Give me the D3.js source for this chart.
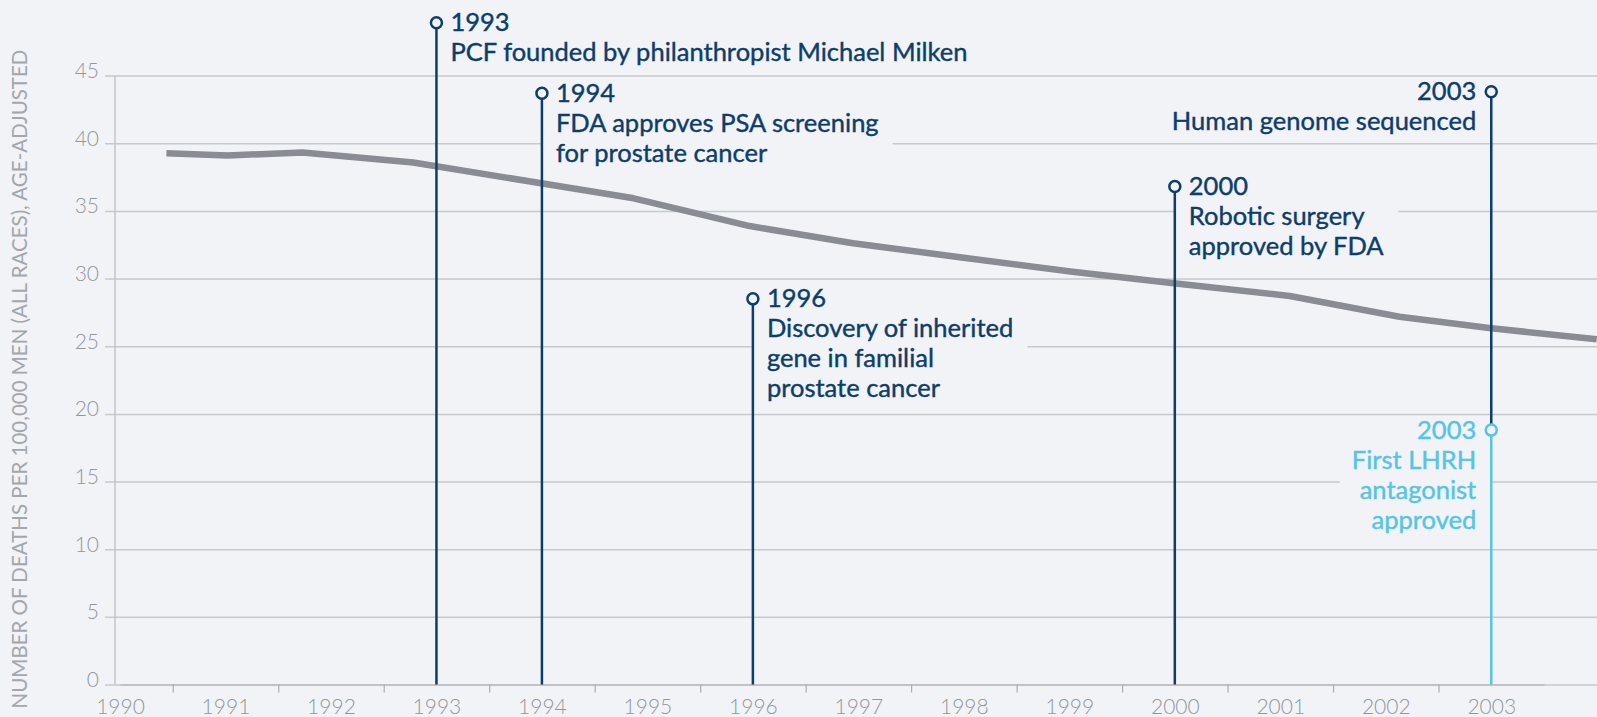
<!DOCTYPE html>
<html>
<head>
<meta charset="utf-8">
<script src="https://cdn.jsdelivr.net/npm/d3@7"></script>
<style>
  html, body { margin: 0; padding: 0; background: #f1f3f6; overflow: hidden; }
  svg { display: block; }
</style>
</head>
<body>
<div id="chart"></div>
<script>
// death rate line (fractional year positions as drawn in the source chart)
var lineYears = [1990.44, 1991.02, 1991.73, 1992.78, 1994.87, 1995.97, 1996.95, 1997.98, 1999.03, 1999.99, 2001.09, 2002.13, 2003.00, 2004.0]
var deathRates = [39.26, 39.10, 39.32, 38.58, 35.93, 33.88, 32.61, 31.56, 30.51, 29.65, 28.71, 27.18, 26.33, 25.51]

var tickYears = [1990, 1991, 1992, 1993, 1994, 1995, 1996, 1997, 1998, 1999, 2000, 2001, 2002, 2003]
var yTicks = [0, 5, 10, 15, 20, 25, 30, 35, 40, 45]

// milestones
var eventYears = [1993, 1994, 1996, 2000, 2003, 2003]
var eventLevels = [48.9, 43.7, 28.5, 36.8, 43.8, 18.8]
var eventTexts = [
    ['1993', 'PCF founded by philanthropist Michael Milken'],
    ['1994', 'FDA approves PSA screening', 'for prostate cancer'],
    ['1996', 'Discovery of inherited', 'gene in familial', 'prostate cancer'],
    ['2000', 'Robotic surgery', 'approved by FDA'],
    ['2003', 'Human genome sequenced'],
    ['2003', 'First LHRH', 'antagonist', 'approved']
]
var eventSides = ['right', 'right', 'right', 'right', 'left', 'left']
var eventTones = ['dark', 'dark', 'dark', 'dark', 'dark', 'light']

var yTitle = 'NUMBER OF DEATHS PER 100,000 MEN (ALL RACES), AGE-ADJUSTED'

var W = 1597, H = 717
var bg = '#f1f3f6'
var tone = { dark: '#0d3d6b', light: '#55c4e6' }

var svg = d3.select('#chart').append('svg')
    .attr('width', W)
    .attr('height', H)

svg.append('rect').attr('width', W).attr('height', H).attr('fill', bg)

var x = d3.scaleLinear().domain([1990, 2003.5]).range([120, 1544])
var y = d3.scaleLinear().domain([0, 45]).range([684.5, 75.6])
var axisX = 115

// y gridlines + labels
var yAxis = svg.append('g')
    .attr('transform', 'translate(' + axisX + ',0)')
    .call(d3.axisLeft(y).tickValues(yTicks).tickSizeInner(-(W - axisX)).tickSizeOuter(0))
yAxis.select('.domain').remove()
yAxis.selectAll('.tick line')
    .attr('x1', -10)
    .attr('stroke', '#c6c9cd')
    .attr('stroke-width', 1.5)
yAxis.selectAll('.tick text')
    .attr('x', -16)
    .attr('dy', 2)
    .attr('fill', '#93979c')
    .attr('font-family', 'Lato')
    .attr('font-weight', 300)
    .attr('font-size', '21px')

svg.append('line')
    .attr('x1', axisX).attr('x2', axisX)
    .attr('y1', y(45)).attr('y2', y(0))
    .attr('stroke', '#c2c5c9')
    .attr('stroke-width', 1.5)

// x axis: labels on years, ticks between years
var xAxis = svg.append('g')
    .attr('transform', 'translate(0,' + y(0) + ')')
    .call(d3.axisBottom(x).tickValues(tickYears).tickFormat(d3.format('d')).tickSize(0))
xAxis.select('.domain')
    .attr('stroke', '#bfc2c6')
    .attr('stroke-width', 2)
xAxis.selectAll('.tick text')
    .attr('y', 15)
    .attr('fill', '#93979c')
    .attr('font-family', 'Lato')
    .attr('font-weight', 300)
    .attr('font-size', '21px')

var halfYears = tickYears.slice(0, -1).map(function (d) { return d + 0.5 })
var xTicks = svg.append('g')
    .attr('transform', 'translate(0,' + y(0) + ')')
    .call(d3.axisBottom(x).tickValues(halfYears).tickFormat('').tickSize(8))
xTicks.select('.domain').remove()
xTicks.selectAll('.tick line').attr('stroke', '#a9adb2').attr('stroke-width', 1.2)

// y title
svg.append('text')
    .attr('transform', 'translate(27,' + 379 + ') rotate(-90)')
    .attr('text-anchor', 'middle')
    .attr('fill', '#a3a7ac')
    .attr('font-family', 'Lato')
    .attr('font-size', '20.5px')
    .text(yTitle)

// events: label blocks first (they mask gridlines), then stems
var events = eventYears.map(function (d, i) {
    return { year: d, level: eventLevels[i], lines: eventTexts[i], side: eventSides[i], tone: eventTones[i] }
})

var boxLayer = svg.append('g')
var dataLayer = svg.append('g')
var stemLayer = svg.append('g')
var textLayer = svg.append('g')

events.forEach(function (e) {
    var cx = x(e.year), cy = y(e.level)
    var right = e.side === 'right'
    var base0 = cy + 8.5
    var t = textLayer.append('text')
        .attr('fill', tone[e.tone])
        .attr('stroke', tone[e.tone])
        .attr('stroke-width', 0.4)
        .attr('font-family', 'Lato')
        .attr('font-size', '25.5px')
        .attr('text-anchor', right ? 'start' : 'end')
    e.lines.forEach(function (s, i) {
        t.append('tspan')
            .attr('x', right ? cx + 14 : cx - 15)
            .attr('y', base0 + i * 30)
            .text(s)
    })
    var bb = t.node().getBBox()
    var x0 = right ? cx : bb.x - 12
    var x1 = right ? bb.x + bb.width + 14 : cx
    var top = base0 - 21
    var bottom = base0 + (e.lines.length - 1) * 30 + 7
    boxLayer.append('rect')
        .attr('x', x0).attr('y', top)
        .attr('width', x1 - x0).attr('height', bottom - top)
        .attr('fill', bg)

    // stem down to the next milestone on the same year, or the axis
    var below = events.filter(function (o) { return o.year === e.year && o.level < e.level })
    var stemEnd = below.length ? y(d3.max(below, function (o) { return o.level })) : y(0)
    stemLayer.append('line')
        .attr('x1', cx).attr('x2', cx)
        .attr('y1', cy).attr('y2', stemEnd)
        .attr('stroke', tone[e.tone])
        .attr('stroke-width', 2.5)
})

events.forEach(function (e) {
    stemLayer.append('circle')
        .attr('cx', x(e.year)).attr('cy', y(e.level))
        .attr('r', 5.5)
        .attr('fill', bg)
        .attr('stroke', tone[e.tone])
        .attr('stroke-width', 2.5)
})

var line = d3.line()
    .x(function (d) { return x(d[0]) })
    .y(function (d) { return y(d[1]) })

dataLayer.append('path')
    .datum(d3.zip(lineYears, deathRates))
    .attr('d', line)
    .attr('fill', 'none')
    .attr('stroke', '#898d93')
    .attr('stroke-width', 6.5)
    .attr('stroke-linejoin', 'round')
</script>
</body>
</html>
